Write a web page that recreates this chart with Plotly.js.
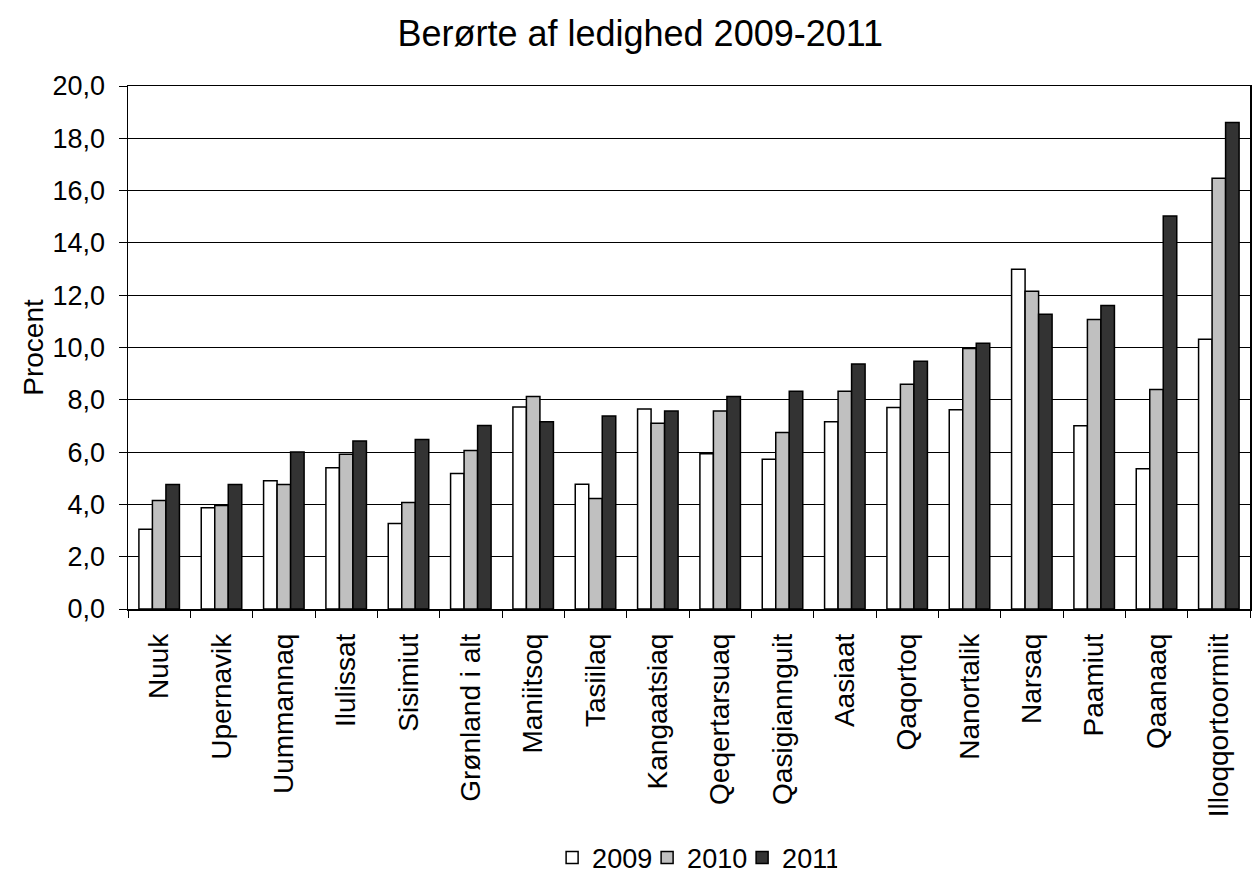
<!DOCTYPE html>
<html>
<head>
<meta charset="utf-8">
<script src="https://cdn.plot.ly/plotly-3.0.1.min.js"></script>
<style>html,body{margin:0;padding:0;background:#fff;}#chart{width:1253px;height:875px;}</style>
</head>
<body>
<div id="chart"></div>
<script>
const categories = ["Nuuk","Upernavik","Uummannaq","Ilulissat","Sisimiut","Grønland i alt","Maniitsoq","Tasiilaq","Kangaatsiaq","Qeqertarsuaq","Qasigiannguit","Aasiaat","Qaqortoq","Nanortalik","Narsaq","Paamiut","Qaanaaq","Illoqqortoormiit"];
const seriesNames = ["2009","2010","2011"];
const values2009 = [3.05,3.87,4.9,5.4,3.27,5.18,7.72,4.77,7.65,5.94,5.73,7.16,7.71,7.62,12.99,7.01,5.36,10.32];
const values2010 = [4.15,3.96,4.76,5.92,4.07,6.06,8.13,4.23,7.1,7.57,6.75,8.33,8.59,9.96,12.15,11.07,8.39,16.47];
const values2011 = [4.76,4.76,6.0,6.42,6.48,7.02,7.16,7.38,7.57,8.13,8.33,9.37,9.47,10.16,11.27,11.61,15.03,18.6];
const colors = ["#FFFFFF","#C0C0C0","#333333"];
const allValues = [values2009, values2010, values2011];

const traces = allValues.map((v,i)=>({
  type:'bar', name:seriesNames[i], x:categories, y:v,
  marker:{color:colors[i], line:{color:'#000', width:1.5}},
  hoverinfo:'x+y+name'
}));

const font = "Liberation Sans, Arial, sans-serif";
const layout = {
  width:1253, height:875,
  margin:{l:128, r:3, t:86, b:266, autoexpand:false},
  paper_bgcolor:'#fff', plot_bgcolor:'#fff',
  separators:', ',
  font:{family:font, color:'#000', size:26},
  title:{text:'Berørte af ledighed 2009-2011', font:{family:font, size:36, color:'#000'}, x:0.511, xanchor:'center', y:0.962, yanchor:'middle'},
  barmode:'group', bargap:0.35, bargroupgap:0,
  xaxis:{type:'category', showline:true, linecolor:'#000', linewidth:1.5, mirror:true,
    ticks:'outside', tickson:'boundaries', ticklen:7, tickcolor:'#000', tickwidth:1,
    ticklabelstandoff:12,
    tickangle:-90, tickfont:{family:font, size:28, color:'#000'}, showgrid:false, automargin:false, fixedrange:true},
  yaxis:{range:[0,20], dtick:2, tick0:0, tickformat:'.1f', showline:true, linecolor:'#000', linewidth:1.5, mirror:true,
    ticks:'outside', ticklen:8, tickcolor:'#000', tickwidth:1,
    ticklabelstandoff:8,
    showgrid:true, gridcolor:'#000', gridwidth:1, zeroline:false,
    tickfont:{family:font, size:27, color:'#000'},
    title:{text:'Procent', font:{family:font, size:28, color:'#000'}, standoff:0},
    automargin:false, fixedrange:true},
  legend:{orientation:'h', x:0.505, xanchor:'center', y:-0.476, yanchor:'middle',
    font:{family:font, size:27, color:'#000'}, itemwidth:30, tracegroupgap:0, traceorder:'normal',
    entrywidth:50},
  showlegend:true
};
Plotly.newPlot('chart', traces, layout, {displayModeBar:false, staticPlot:true});
</script>
</body>
</html>
